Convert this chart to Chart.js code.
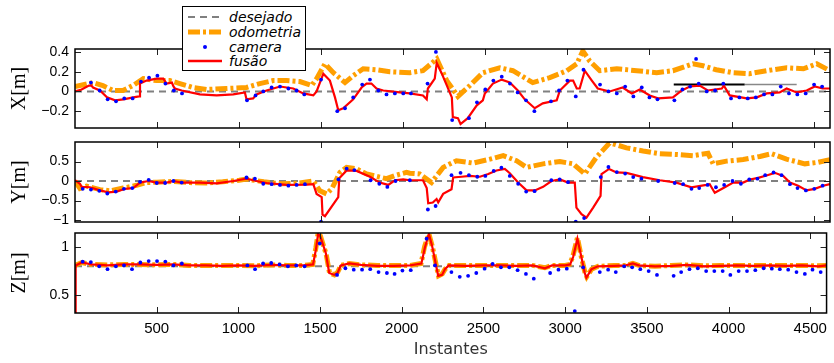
<!DOCTYPE html>
<html><head><meta charset="utf-8">
<script src="https://cdn.jsdelivr.net/npm/chart.js@4.4.1/dist/chart.umd.min.js"></script>
<style>
html,body{margin:0;padding:0;background:#fff;}
#wrap{position:relative;width:834px;height:363px;overflow:hidden;background:#fff;}
#wrap canvas{position:absolute;left:0;top:0;}
#legend{position:absolute;left:182px;top:6px;width:124px;height:65px;background:#fff;border:1px solid #000;box-sizing:border-box;font:italic 14px "DejaVu Sans",sans-serif;color:#000;z-index:5;}
.row{position:absolute;left:5px;height:15px;display:flex;align-items:center;white-space:nowrap;}
.row svg{width:34px;height:10px;margin-right:7px;}
</style></head>
<body>
<div id="wrap">
  <canvas id="cX" width="834" height="363"></canvas>
  <canvas id="cY" width="834" height="363"></canvas>
  <canvas id="cZ" width="834" height="363"></canvas>
  <div id="legend">
    <div class="row" style="top:2px"><svg viewBox="0 0 34 10"><line x1="0" y1="5" x2="34" y2="5" stroke="#808080" stroke-width="2" stroke-dasharray="7,5"/></svg><span>desejado</span></div>
    <div class="row" style="top:17px"><svg viewBox="0 0 34 10"><line x1="0" y1="5" x2="34" y2="5" stroke="#ff9f00" stroke-width="5" stroke-dasharray="12,3,3,3"/></svg><span>odometria</span></div>
    <div class="row" style="top:32px"><svg viewBox="0 0 34 10"><circle cx="17" cy="5" r="2" fill="#0000ff"/></svg><span>camera</span></div>
    <div class="row" style="top:46px"><svg viewBox="0 0 34 10"><line x1="0" y1="5" x2="34" y2="5" stroke="#ff0000" stroke-width="2.5"/></svg><span>fusão</span></div>
  </div>
</div>
<script>
// ---------- shared ----------
const xRange = [0, 4600];
const xTickValues = [500, 1000, 1500, 2000, 2500, 3000, 3500, 4000, 4500];
const xTickLabels = ["500", "1000", "1500", "2000", "2500", "3000", "3500", "4000", "4500"];
const xAxisTitle = "Instantes";

// ---------- X panel ----------
const xTicksX = [-0.2, 0, 0.2, 0.4];
const desejadoX = [0, 0];
const tFusaoX = [0,40,85,100,110,152,195,244,295,355,390,396,436,497,538,558,590,600,609,650,761,863,964,1035,1045,1085,1106,1167,1249,1330,1391,1452,1472,1513,1553,1584,1604,1634,1695,1746,1776,1806,1837,1878,1979,2040,2120,2143,2150,2192,2204,2235,2296,2302,2333,2349,2393,2448,2485,2497,2546,2600,2649,2698,2740,2801,2850,2935,2954,3015,3035,3057,3075,3106,3149,3185,3258,3337,3392,3441,3502,3552,3643,3697,3746,3806,3855,3941,3953,3989,4093,4154,4215,4293,4336,4397,4458,4507,4555,4600];
const vFusaoX = [0,0.02,0.06,0.06,0.04,0.01,-0.06,-0.09,-0.08,-0.06,-0.05,0.08,0.11,0.13,0.13,0.08,0.09,0.05,0.03,0.01,-0.03,-0.04,-0.03,-0.01,-0.08,-0.07,-0.03,0.01,0.05,0.03,-0.02,-0.04,0,0.18,0.11,-0.06,-0.19,-0.17,-0.08,0.04,0.08,0.08,0.03,0.01,-0.01,-0.02,-0.04,-0.08,0.03,0.13,0.29,0.18,-0.06,-0.26,-0.27,-0.33,-0.27,-0.14,-0.09,-0.02,0.08,0.12,0.09,0.01,-0.08,-0.17,-0.12,-0.09,0.01,0.11,0.11,0.03,0.03,0.21,0.11,0.03,0,0.04,-0.02,0.02,-0.04,-0.07,-0.06,0.01,0.05,0.06,0.01,0.03,0.06,-0.04,-0.07,-0.06,-0.02,-0.01,0.03,-0.01,0.01,0.05,0.03,0.03];
const tOdoX = [0,110,170,231,292,353,416,497,578,639,720,801,923,1045,1126,1207,1289,1370,1442,1472,1523,1574,1645,1695,1756,1837,1918,2040,2120,2204,2265,2333,2406,2485,2588,2668,2789,2893,2996,3057,3094,3135,3197,3301,3423,3544,3643,3765,3826,3907,4008,4110,4215,4336,4438,4519,4600];
const vOdoX = [0.05,0.09,0.06,0.01,0.01,0.06,0.13,0.11,0.11,0.08,0.04,0.02,0.03,0.04,0.08,0.11,0.11,0.10,0.06,0.13,0.28,0.19,0.09,0.16,0.23,0.22,0.20,0.19,0.21,0.33,0.11,-0.05,0.06,0.19,0.24,0.21,0.09,0.14,0.21,0.28,0.41,0.31,0.21,0.23,0.21,0.19,0.21,0.28,0.26,0.22,0.19,0.18,0.21,0.24,0.23,0.28,0.21];
const tCamX = [97,150,199,250,300,351,402,451,502,551,602,652,1048,1100,1147,1198,1249,1300,1350,1397,1499,1598,1645,1695,1750,1797,1848,1898,1949,2000,2047,2148,2199,2298,2349,2400,2449,2500,2549,2600,2650,2697,2748,2799,2900,2949,3000,3051,3098,3199,3250,3301,3352,3402,3453,3500,3549,3652,3701,3748,3784,3800,3849,3900,3950,3997,4048,4099,4148,4198,4249,4300,4350,4401,4452,4503,4552];
const vCamX = [0.09,0.01,-0.08,-0.10,-0.07,-0.07,0.10,0.14,0.16,0.08,0.01,-0.02,-0.09,-0.04,0,0.04,0.05,0.03,0.01,-0.03,0.12,-0.20,-0.17,-0.06,0.07,0.12,0.01,-0.03,-0.02,-0.02,-0.02,0.08,0.40,-0.29,-0.38,-0.27,-0.11,0.02,0.11,0.15,0.08,-0.01,-0.09,-0.20,-0.10,0.01,0.11,-0.05,0.22,0.07,0,-0.02,0.05,-0.05,0.04,-0.06,-0.08,-0.09,0.02,0.05,0.33,0.08,0,0.01,0.08,-0.07,-0.06,-0.07,-0.06,-0.03,-0.03,0.05,-0.02,-0.03,-0.02,0.07,0.05];
const tRefBlackX = [3648, 4080];
const vRefBlackX = [0.07, 0.07];
const tRefGrayX = [4080, 4397];
const vRefGrayX = [0.07, 0.07];

// ---------- Y panel ----------
const yTicksY = [-1, -0.5, 0, 0.5];
const desejadoY = [0, 0];
const tFusaoY = [0,30,41,91,152,203,254,304,355,396,447,497,558,599,650,761,863,964,1045,1106,1167,1289,1411,1452,1472,1503,1508,1523,1604,1610,1655,1716,1797,1857,1908,1949,2000,2040,2120,2143,2152,2180,2203,2213,2243,2294,2304,2355,2406,2467,2518,2568,2619,2649,2700,2751,2802,2852,2903,2954,3005,3045,3055,3086,3116,3157,3202,3208,3254,3299,3360,3460,3563,3664,3756,3847,3867,3898,3959,4010,4071,4112,4162,4213,4264,4315,4356,4406,4457,4507,4558,4600];
const vFusaoY = [0.02,-0.07,-0.15,-0.16,-0.24,-0.29,-0.27,-0.20,-0.18,-0.04,0,-0.04,-0.04,0,-0.04,-0.04,-0.06,0,0.06,0,-0.05,-0.10,-0.09,-0.08,-0.33,-0.41,-0.86,-0.90,-0.41,0.07,0.27,0.26,0.11,-0.04,-0.10,0.02,0.04,0.02,0.02,-0.18,-0.57,-0.55,-0.46,-0.55,-0.33,-0.21,0.09,0.11,0.13,0.11,0.18,0.27,0.31,0.20,-0.04,-0.24,-0.24,-0.15,0,0.04,-0.04,-0.04,-0.68,-0.85,-0.94,-0.68,-0.38,0.18,0.31,0.22,0.21,0.10,0.02,-0.04,-0.16,-0.10,-0.08,-0.30,-0.16,-0.04,-0.04,0.04,0.08,0.14,0.21,0.13,-0.04,-0.12,-0.24,-0.20,-0.12,-0.08];
const tOdoY = [0,30,71,152,213,294,375,436,500,600,700,800,900,1000,1045,1150,1250,1350,1452,1492,1533,1564,1594,1614,1655,1716,1777,1857,1898,1949,2020,2040,2100,2172,2243,2324,2426,2528,2609,2690,2751,2852,2954,3035,3106,3177,3258,3360,3461,3563,3664,3766,3857,3888,3969,4071,4173,4244,4335,4447,4528,4600];
const vOdoY = [0,-0.19,-0.13,-0.22,-0.25,-0.18,-0.11,-0.04,-0.03,-0.01,-0.04,-0.05,-0.02,0.02,0.05,-0.02,-0.07,-0.06,0,-0.25,-0.33,-0.20,0.05,0.22,0.35,0.31,0.18,0.10,0.06,0.14,0.22,0.20,0.18,-0.04,0.35,0.52,0.46,0.56,0.65,0.52,0.35,0.44,0.50,0.44,0.18,0.61,0.98,0.85,0.77,0.70,0.68,0.65,0.71,0.44,0.51,0.55,0.63,0.70,0.56,0.44,0.48,0.55];
const tCamY = [47,97,148,197,248,298,349,396,449,498,549,600,650,1045,1096,1147,1198,1249,1300,1350,1401,1499,1605,1655,1702,1801,1854,1903,1953,2040,2150,2197,2294,2349,2400,2451,2500,2551,2598,2649,2700,2749,2800,2902,2953,3004,3051,3102,3203,3250,3301,3352,3401,3451,3553,3654,3705,3756,3803,3854,3905,3955,4006,4057,4108,4158,4205,4256,4305,4356,4402,4453,4504,4555];
const vCamY = [-0.20,-0.22,-0.25,-0.32,-0.27,-0.20,-0.18,-0.02,0.03,-0.05,-0.05,0,-0.04,0.09,0.06,-0.07,-0.08,-0.10,-0.12,-0.10,-0.08,-1.04,0.04,0.32,0.28,0.02,-0.07,-0.15,0,0.02,-0.73,-0.64,0.15,0.21,0.15,0.11,0.13,0.26,0.34,0.13,-0.07,-0.27,-0.26,0.02,0.04,-0.03,-1.04,-0.95,0.10,0.36,0.23,0.19,0.10,0.06,0,-0.05,-0.08,-0.20,-0.18,-0.10,-0.16,-0.10,0,-0.07,0.04,0.06,0.15,0.22,0.15,-0.08,-0.18,-0.24,-0.20,-0.12];

// ---------- Z panel ----------
const zTicksZ = [0.5, 1];
const desejadoZ = [0.8, 0.8];
const tFusaoZ = [0,4,41,100,200,300,400,500,600,700,800,900,1000,1100,1200,1300,1400,1457,1475,1488,1500,1535,1556,1587,1607,1627,1678,1750,1850,1950,2050,2120,2142,2166,2185,2203,2223,2247,2264,2288,2400,2500,2600,2700,2800,2876,2920,3000,3030,3049,3075,3099,3120,3130,3161,3201,3300,3370,3414,3450,3550,3650,3750,3850,3950,4050,4150,4250,4350,4450,4550,4600];
const vFusaoZ = [0.0,0.81,0.84,0.82,0.81,0.82,0.82,0.815,0.82,0.81,0.81,0.805,0.81,0.805,0.815,0.81,0.81,0.82,0.98,1.14,1.12,0.94,0.73,0.71,0.73,0.81,0.83,0.815,0.805,0.805,0.81,0.83,1.0,1.14,1.02,0.87,0.70,0.71,0.77,0.81,0.805,0.81,0.81,0.805,0.81,0.78,0.81,0.81,0.82,0.90,1.09,0.90,0.73,0.68,0.77,0.80,0.805,0.81,0.83,0.81,0.80,0.805,0.815,0.80,0.805,0.81,0.805,0.81,0.805,0.81,0.80,0.81];
const tOdoZ = [0,41,100,200,300,400,500,600,700,800,900,1000,1100,1200,1300,1400,1455,1474,1488,1502,1537,1558,1588,1608,1628,1680,1750,1850,1950,2050,2118,2140,2166,2187,2205,2225,2248,2265,2290,2400,2500,2600,2700,2800,2876,2920,3000,3028,3048,3075,3100,3122,3132,3162,3202,3300,3370,3414,3450,3550,3650,3750,3850,3950,4050,4150,4250,4350,4450,4550,4600];
const vOdoZ = [0.81,0.84,0.82,0.815,0.82,0.82,0.815,0.82,0.81,0.81,0.81,0.81,0.805,0.815,0.81,0.81,0.82,0.99,1.15,1.12,0.93,0.73,0.71,0.74,0.81,0.83,0.815,0.81,0.81,0.81,0.83,1.01,1.14,1.01,0.86,0.70,0.72,0.77,0.81,0.81,0.81,0.81,0.81,0.81,0.785,0.81,0.81,0.82,0.91,1.10,0.89,0.73,0.69,0.77,0.80,0.81,0.81,0.83,0.81,0.80,0.81,0.815,0.805,0.81,0.81,0.81,0.81,0.81,0.81,0.805,0.81];
const tCamZ = [47,97,148,199,250,300,349,400,451,502,553,603,654,1055,1102,1151,1201,1252,1303,1354,1405,1498,1604,1655,1706,1757,1807,1858,1909,1956,2004,2055,2152,2203,2304,2355,2406,2456,2507,2556,2607,2658,2709,2760,2808,2908,2959,3010,3059,3110,3212,3263,3310,3361,3410,3460,3511,3562,3664,3710,3761,3812,3863,3913,3964,4011,4062,4113,4164,4215,4265,4314,4365,4416,4467,4514,4564];
const vCamZ = [0.85,0.845,0.80,0.77,0.80,0.81,0.77,0.84,0.855,0.855,0.85,0.81,0.83,0.81,0.77,0.83,0.835,0.82,0.80,0.81,0.80,1.04,0.71,0.78,0.765,0.765,0.77,0.74,0.73,0.72,0.755,0.76,1.09,0.81,0.74,0.69,0.70,0.73,0.775,0.825,0.79,0.79,0.76,0.72,0.67,0.73,0.765,0.775,0.33,0.79,0.74,0.765,0.74,0.80,0.79,0.77,0.75,0.71,0.70,0.74,0.77,0.78,0.75,0.75,0.75,0.71,0.75,0.75,0.76,0.78,0.775,0.77,0.765,0.74,0.72,0.765,0.74];

// ---------- helpers ----------
const pts = (t, v) => t.map((x, i) => ({x: x, y: v[i]}));
const fmt = v => String(v).replace('-', '\u2212');
const C = {des: '#808080', odo: '#ff9f00', cam: '#0000ff', fus: '#ff0000'};

const boxPlugin = {
  id: 'matlabBox',
  afterDatasetsDraw(chart) {
    const {ctx, chartArea: a, scales} = chart;
    ctx.save();
    ctx.strokeStyle = '#222';
    ctx.lineWidth = 1;
    ctx.beginPath();
    for (const t of scales.x.ticks) {
      const px = Math.round(scales.x.getPixelForValue(t.value)) + 0.5;
      ctx.moveTo(px, a.top); ctx.lineTo(px, a.top + 6);
      ctx.moveTo(px, a.bottom); ctx.lineTo(px, a.bottom - 6);
    }
    for (const t of scales.y.ticks) {
      const py = Math.round(scales.y.getPixelForValue(t.value)) + 0.5;
      ctx.moveTo(a.left, py); ctx.lineTo(a.left + 6, py);
      ctx.moveTo(a.right, py); ctx.lineTo(a.right - 6, py);
    }
    ctx.stroke();
    ctx.strokeStyle = '#000';
    ctx.lineWidth = 1.5;
    ctx.strokeRect(a.left, a.top, a.width, a.height);
    ctx.restore();
  }
};

function panel(id, opts) {
  const datasets = [
    {data: pts(xRange, opts.des), borderColor: C.des, borderWidth: 2, borderDash: [7, 5], pointRadius: 0, order: 4},
    {data: pts(opts.tOdo, opts.vOdo), borderColor: C.odo, borderWidth: 5, borderDash: [12, 3, 3, 3], pointRadius: 0, order: 3},
    {data: pts(opts.tFus, opts.vFus), borderColor: C.fus, borderWidth: 2.2, pointRadius: 0, order: 1},
    {data: pts(opts.tCam, opts.vCam), showLine: false, pointRadius: 1.9, pointBackgroundColor: C.cam, pointBorderWidth: 0, borderColor: C.cam, order: 0}
  ].concat(opts.extra || []);
  return new Chart(document.getElementById(id), {
    type: 'line',
    data: {datasets},
    plugins: [boxPlugin],
    options: {
      responsive: false,
      animation: false,
      events: [],
      layout: {padding: {top: opts.top, bottom: opts.bottom, left: 0, right: 4}},
      plugins: {legend: {display: false}, tooltip: {enabled: false}},
      elements: {line: {tension: 0}},
      scales: {
        x: {
          type: 'linear', min: xRange[0], max: xRange[1],
          afterBuildTicks: s => { s.ticks = xTickValues.map(v => ({value: v})); },
          afterFit: s => { s.height = opts.xHeight; },
          grid: {display: false, drawTicks: false},
          border: {display: false},
          ticks: {display: opts.showX, padding: 7, color: '#000', font: {family: 'Liberation Sans', size: 15},
                  callback: v => { const i = xTickValues.indexOf(v); return i >= 0 ? xTickLabels[i] : String(v); }},
          title: {display: opts.showX, text: xAxisTitle, color: '#333', font: {family: 'DejaVu Sans', size: 16}, padding: {top: 2, bottom: 4}}
        },
        y: {
          type: 'linear', min: opts.min, max: opts.max,
          afterBuildTicks: s => { s.ticks = opts.ticks.map(v => ({value: v})); },
          afterFit: s => { s.width = 75; },
          grid: {display: false, drawTicks: false},
          border: {display: false},
          ticks: {padding: 6, color: '#000', font: {family: 'Liberation Sans', size: 14}, callback: v => fmt(v)},
          title: {display: true, text: opts.title, color: '#000', font: {family: 'Liberation Serif', size: 20}, padding: {top: 8, bottom: 0}}
        }
      }
    }
  });
}

panel('cX', {
  top: 49, bottom: 363 - 128, xHeight: 0, showX: false,
  min: -0.37, max: 0.43, ticks: xTicksX, title: 'X[m]',
  des: desejadoX, tOdo: tOdoX, vOdo: vOdoX, tFus: tFusaoX, vFus: vFusaoX, tCam: tCamX, vCam: vCamX,
  extra: [
    {data: pts(tRefBlackX, vRefBlackX), borderColor: '#000', borderWidth: 2, pointRadius: 0, order: 2},
    {data: pts(tRefGrayX, vRefGrayX), borderColor: '#888', borderWidth: 1.5, pointRadius: 0, order: 2}
  ]
});
panel('cY', {
  top: 142, bottom: 363 - 222, xHeight: 0, showX: false,
  min: -1.05, max: 1.0, ticks: yTicksY, title: 'Y[m]',
  des: desejadoY, tOdo: tOdoY, vOdo: vOdoY, tFus: tFusaoY, vFus: vFusaoY, tCam: tCamY, vCam: vCamY
});
panel('cZ', {
  top: 233, bottom: 0, xHeight: 50, showX: true,
  min: 0.31, max: 1.15, ticks: zTicksZ, title: 'Z[m]',
  des: desejadoZ, tOdo: tOdoZ, vOdo: vOdoZ, tFus: tFusaoZ, vFus: vFusaoZ, tCam: tCamZ, vCam: vCamZ
});
</script>
</body></html>
